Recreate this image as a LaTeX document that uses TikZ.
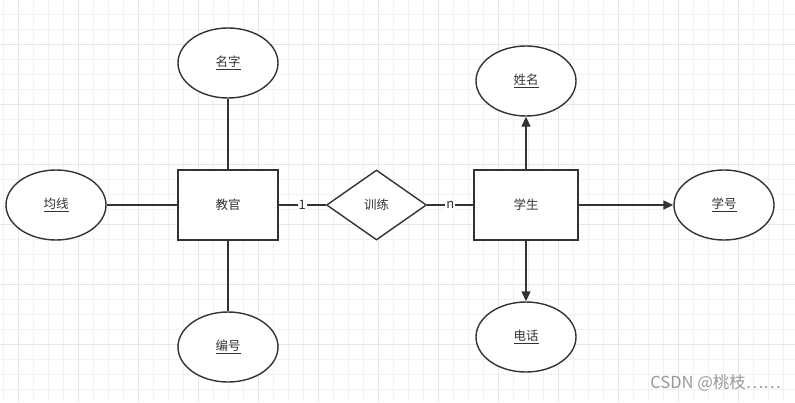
\documentclass[tikz,border=0pt]{standalone}
\usepackage{fontspec}
\setmainfont{Noto Sans CJK SC}
\usetikzlibrary{shapes.geometric,arrows.meta}
\definecolor{ink}{HTML}{333333}
\definecolor{gridminor}{HTML}{F2F2F2}
\definecolor{gridmajor}{HTML}{E6E6E6}
\definecolor{wm}{HTML}{999999}
\tikzset{
  base/.style={draw=ink, line width=1.4pt, text=ink, font=\fontsize{12.5}{14}\selectfont, inner sep=0pt},
  attr/.style={base, ellipse, minimum width=100pt, minimum height=70pt},
  entity/.style={base, rectangle, minimum width=100pt, minimum height=70pt},
  rel/.style={base, diamond, minimum width=100pt, minimum height=70pt},
  conn/.style={draw=ink, line width=1.4pt},
  arr/.style={conn, -{Triangle[length=10pt,width=9pt]}},
  card/.style={fill=white, text=ink, font=\fontsize{13}{15}\selectfont, inner sep=1pt},
}
\begin{document}
\begin{tikzpicture}[x=1pt,y=-1pt]
\useasboundingbox (0,0) rectangle (795,402);
\fill[white] (0,0) rectangle (795,402);
% grid
\foreach \x in {3,18,...,795} {\draw[gridminor, line width=0.8pt] (\x,0) -- (\x,402);}
\foreach \y in {14,29,...,402} {\draw[gridminor, line width=0.8pt] (0,\y) -- (795,\y);}
\foreach \x in {18,78,...,795} {\draw[gridmajor, line width=0.8pt] (\x,0) -- (\x,402);}
\foreach \y in {44,104,...,402} {\draw[gridmajor, line width=0.8pt] (0,\y) -- (795,\y);}
% nodes
\node[attr, fill=white] (jx) at (56,205) {\underline{均线}};
\node[entity, fill=white] (jg) at (228,205) {教官};
\node[attr, fill=white] (mz) at (228,63) {\underline{名字}};
\node[attr, fill=white] (bh) at (228,347) {\underline{编号}};
\node[rel, fill=white] (xl) at (376.5,205) {训练};
\node[entity, fill=white, minimum width=104pt] (xs) at (526,205) {学生};
\node[attr, fill=white] (xm) at (526,81) {\underline{姓名}};
\node[attr, fill=white] (dh) at (526,337) {\underline{电话}};
\node[attr, fill=white] (xh) at (724,205) {\underline{学号}};
% connectors
\draw[conn] (jx) -- (jg);
\draw[conn] (mz) -- (jg);
\draw[conn] (jg) -- (bh);
\draw[conn] (jg) -- node[card] (c1) {1} (xl);
\draw[conn] (xl) -- node[card] (cn) {n} (xs);
\draw[arr] (xs) -- (xm);
\draw[arr] (xs) -- (dh);
\draw[arr] (xs) -- (xh);
% watermark
\node[text=wm, font=\fontsize{16.5}{18}\selectfont, anchor=east, inner sep=0pt] (wmk) at (781,383) {CSDN @桃枝……};
\end{tikzpicture}
\end{document}
